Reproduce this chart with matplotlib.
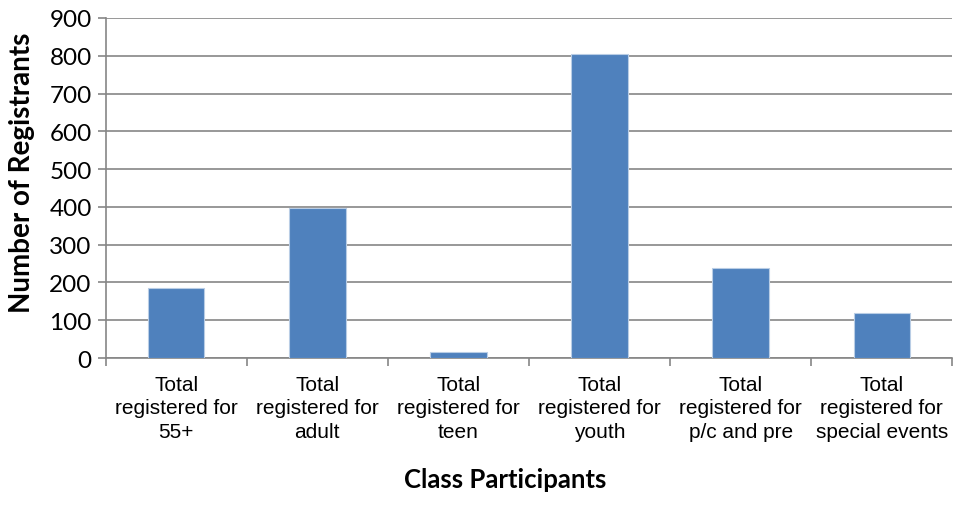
import matplotlib.pyplot as plt
import numpy as np

# 数据
categories = ["Total\nregistered for\n55+", "Total\nregistered for\nadult",
              "Total\nregistered for\nteen", "Total\nregistered for\nyouth",
              "Total\nregistered for\np/c and pre", "Total\nregistered for\nspecial events"]
registrants = [185, 397, 16, 805, 238, 120]
y_ticks = [0, 100, 200, 300, 400, 500, 600, 700, 800, 900]

fig = plt.figure(figsize=(9.6, 5.06), dpi=100)
ax = fig.add_axes([0.110, 0.2905, 0.882, 0.672])

x = np.arange(len(categories))
ax.bar(x, registrants, width=0.4, color='#4F81BD', edgecolor='#B9CDE5', linewidth=0.8, zorder=3)

ax.set_xlim(-0.5, len(categories) - 0.5)
ax.set_ylim(0, 900)
ax.set_yticks(y_ticks)
ax.set_yticklabels([str(v) for v in y_ticks], family=['Lato', 'DejaVu Sans'], fontsize=17.5)
ax.yaxis.grid(True, color='#868686', linewidth=1.2, zorder=0)

# 分类刻度线在边界上，标签放在中间
ax.set_xticks(np.arange(len(categories) + 1) - 0.5)
ax.set_xticklabels([])
ax.set_xticks(x, minor=True)
ax.set_xticklabels(categories, minor=True, family=['Liberation Sans', 'DejaVu Sans'],
                   fontsize=15, linespacing=1.3)
ax.tick_params(axis='x', which='minor', length=0, pad=12)
ax.tick_params(axis='x', which='major', length=6, color='#868686', width=1.2)
ax.tick_params(axis='y', length=6, color='#868686', width=1.2, pad=4)

for side in ['top', 'right']:
    ax.spines[side].set_visible(False)
for side in ['left', 'bottom']:
    ax.spines[side].set_color('#868686')
    ax.spines[side].set_linewidth(1.2)

fig.text(0.023, 0.658, 'Number of Registrants', family=['Lato', 'DejaVu Sans'], fontsize=20,
         fontweight='bold', rotation=90, ha='center', va='center')
fig.text(0.526, 0.028, 'Class Participants', family=['Lato', 'DejaVu Sans'], fontsize=18.5,
         fontweight='bold', ha='center', va='bottom')

plt.savefig('out.png', dpi=100)
